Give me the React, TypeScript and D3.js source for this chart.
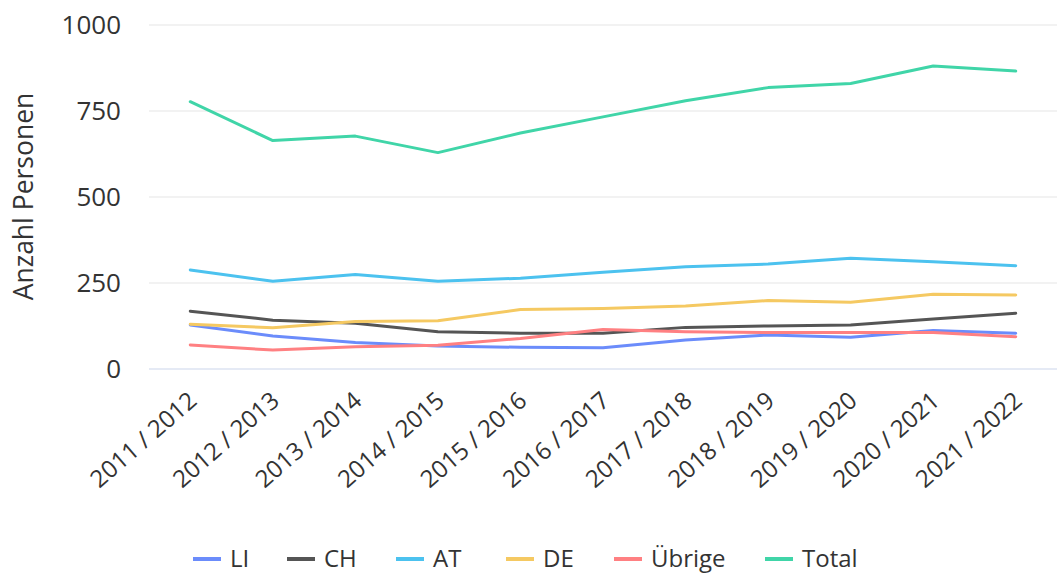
import { useEffect, useRef } from 'react';
import * as d3 from 'd3';

const years = [
  '2011 / 2012', '2012 / 2013', '2013 / 2014', '2014 / 2015', '2015 / 2016', '2016 / 2017',
  '2017 / 2018', '2018 / 2019', '2019 / 2020', '2020 / 2021', '2021 / 2022',
];

const li = [128, 96, 77, 67, 63, 62, 84, 99, 92, 112, 104];
const ch = [168, 142, 133, 108, 104, 104, 121, 125, 128, 145, 162];
const at = [288, 255, 275, 255, 264, 281, 297, 305, 322, 312, 300];
const de = [130, 120, 138, 140, 173, 176, 183, 199, 194, 217, 215];
const uebrige = [70, 55, 65, 69, 89, 115, 108, 106, 106, 106, 94];
const total = [777, 664, 677, 629, 686, 733, 780, 818, 830, 881, 866];

const yTicks = [0, 250, 500, 750, 1000];

const seriesNames = ['LI', 'CH', 'AT', 'DE', 'Übrige', 'Total'];
const seriesValues = [li, ch, at, de, uebrige, total];
const seriesColors = ['#6b8cfb', '#555555', '#4cc2ef', '#f5c962', '#ff8082', '#40d5a8'];

const App = () => {
  const svgRef = useRef<SVGSVGElement | null>(null);

  useEffect(() => {
    const width = 1058;
    const height = 575;
    const margin = { left: 149, right: 1, top: 25, bottom: 206 };
    const font = '"Open Sans", sans-serif';

    const svg = d3.select(svgRef.current);
    svg.selectAll('*').remove();
    svg.attr('width', width).attr('height', height);

    const x = d3.scalePoint<string>()
      .domain(years)
      .range([margin.left, width - margin.right])
      .padding(0.5);

    const y = d3.scaleLinear()
      .domain([0, 1000])
      .range([height - margin.bottom, margin.top]);

    // gridlines
    svg.append('g')
      .selectAll('line')
      .data(yTicks)
      .enter()
      .append('line')
      .attr('x1', margin.left)
      .attr('x2', width - margin.right)
      .attr('y1', d => y(d))
      .attr('y2', d => y(d))
      .attr('stroke', d => (d === 0 ? '#ccd6eb' : '#e6e6e6'))
      .attr('stroke-width', 1.2);

    // y tick labels
    svg.append('g')
      .selectAll('text')
      .data(yTicks)
      .enter()
      .append('text')
      .attr('x', 121)
      .attr('y', d => y(d))
      .attr('dy', '0.35em')
      .attr('text-anchor', 'end')
      .style('font-family', font)
      .style('font-size', '26px')
      .style('fill', '#333')
      .text(d => d);

    // y axis title
    svg.append('text')
      .attr('transform', `translate(33, ${(88 + 305) / 2}) rotate(-90)`)
      .attr('text-anchor', 'middle')
      .style('font-family', font)
      .style('font-size', '26.5px')
      .style('fill', '#333')
      .text('Anzahl Personen');

    // x tick labels
    svg.append('g')
      .selectAll('text')
      .data(years)
      .enter()
      .append('text')
      .attr('transform', d => `translate(${(x(d) as number) + 8}, 403) rotate(-41)`)
      .attr('text-anchor', 'end')
      .style('font-family', font)
      .style('font-size', '24px')
      .style('fill', '#333')
      .text(d => d);

    // lines
    const line = d3.line<number>()
      .x((_, i) => x(years[i]) as number)
      .y(d => y(d));

    svg.append('g')
      .selectAll('path')
      .data(seriesValues)
      .enter()
      .append('path')
      .attr('d', d => line(d))
      .attr('fill', 'none')
      .attr('stroke', (_, i) => seriesColors[i])
      .attr('stroke-width', 3)
      .attr('stroke-linejoin', 'round')
      .attr('stroke-linecap', 'round');

    // legend
    const legendX = [193, 287, 396, 506, 614, 765];
    const legend = svg.append('g').attr('transform', 'translate(0, 559)');
    seriesNames.forEach((name, i) => {
      const row = legend.append('g').attr('transform', `translate(${legendX[i]}, 0)`);
      row.append('line')
        .attr('x1', 0)
        .attr('x2', 28)
        .attr('y1', 0)
        .attr('y2', 0)
        .attr('stroke', seriesColors[i])
        .attr('stroke-width', 4);
      row.append('text')
        .attr('x', 37)
        .attr('y', 0)
        .attr('dy', '0.35em')
        .style('font-family', font)
        .style('font-size', '24px')
        .style('fill', '#333')
        .text(name);
    });
  }, []);

  return <svg ref={svgRef} style={{ position: 'absolute', left: 0, top: 0 }}></svg>;
};

export default App;
